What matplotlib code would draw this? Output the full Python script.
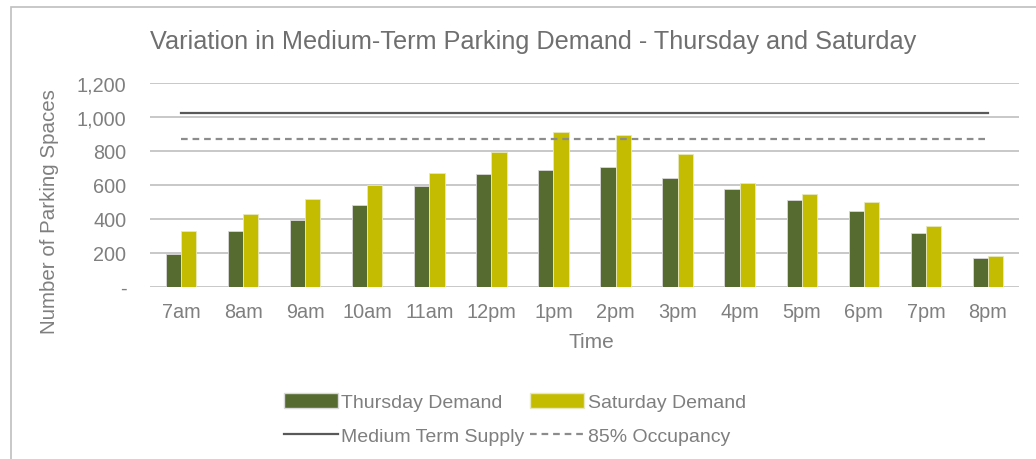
import matplotlib
matplotlib.use("Agg")
import matplotlib.pyplot as plt
import numpy as np
from matplotlib.patches import Rectangle
from matplotlib.lines import Line2D
from matplotlib.ticker import FuncFormatter

times = ["7am", "8am", "9am", "10am", "11am", "12pm", "1pm", "2pm", "3pm", "4pm", "5pm", "6pm", "7pm", "8pm"]
thursday = [195, 330, 391, 481, 591, 662, 688, 705, 642, 576, 511, 444, 318, 167]
saturday = [330, 427, 517, 597, 672, 794, 910, 894, 784, 611, 544, 499, 356, 181]
supply = 1025
occupancy = 871

plt.rcParams['font.family'] = ['Liberation Sans', 'DejaVu Sans']
txt = '#7f7f7f'
title_c = '#6f6f6f'

fig = plt.figure(figsize=(10.36, 4.6), dpi=100)
W, H = 1036, 460
ax = fig.add_axes([150 / W, 1 - 287.7 / H, (1019 - 150) / W, (287.7 - 84) / H])

x = np.arange(len(times))
bw = 0.245
ax.bar(x - bw / 2, thursday, bw, color='#556b2f', edgecolor='#d9d9d9', linewidth=0.6, zorder=3)
ax.bar(x + bw / 2, saturday, bw, color='#c4bc00', edgecolor='#e8e8c0', linewidth=0.6, zorder=3)
ax.plot([x[0], x[-1]], [supply, supply], color='#595959', lw=1.6, zorder=4)
ax.plot([x[0], x[-1]], [occupancy, occupancy], color='#8c8c8c', lw=1.6, ls=(0, (3, 2.2)), zorder=4)

ax.set_xlim(-0.5, len(times) - 0.5)
ax.set_ylim(0, 1200)
ax.set_yticks(range(0, 1201, 200))
ax.yaxis.set_major_formatter(FuncFormatter(lambda v, p: '-' if v == 0 else f'{int(v):,}'))
ax.set_xticks(x)
ax.set_xticklabels(times)
ax.grid(axis='y', color='#bfbfbf', lw=1.2, zorder=0)
for s in ax.spines.values():
    s.set_visible(False)
ax.tick_params(axis='both', length=0, colors=txt, labelsize=14.3)
ax.tick_params(axis='y', pad=17)
ax.tick_params(axis='x', pad=11)

fig.text(591 / W, 1 - 342 / H, 'Time', ha='center', va='center', fontsize=15, color=txt)
fig.text(50 / W, 1 - 212 / H, 'Number of Parking Spaces', ha='center', va='center',
         rotation=90, fontsize=14.8, color=txt)

fig.text(533 / W, 1 - 42 / H, 'Variation in Medium-Term Parking Demand - Thursday and Saturday',
         ha='center', va='center', fontsize=18.2, color=title_c)

# chart border (top and left visible)
fig.add_artist(Rectangle((11 / W, -0.1), 1.2, 1 - 8 / H + 0.1, transform=fig.transFigure,
                         fill=False, edgecolor='#bfbfbf', lw=1.2))

handles = [Rectangle((0, 0), 1, 1, facecolor='#556b2f', edgecolor='#d9d9d9'),
           Line2D([], [], color='#595959', lw=1.6),
           Rectangle((0, 0), 1, 1, facecolor='#c4bc00', edgecolor='#e8e8c0'),
           Line2D([], [], color='#8c8c8c', lw=1.6, ls=(0, (3, 2.2)))]
labels = ['Thursday Demand', 'Medium Term Supply', 'Saturday Demand', '85% Occupancy']
leg = fig.legend(handles, labels, ncol=2, loc='center', bbox_to_anchor=(515 / W, 1 - 420 / H),
                 frameon=False, fontsize=14, handlelength=2.75, handleheight=0.75,
                 handletextpad=0.2, columnspacing=0.3, labelspacing=0.8, labelcolor=txt)

fig.savefig('out.png', dpi=100)
